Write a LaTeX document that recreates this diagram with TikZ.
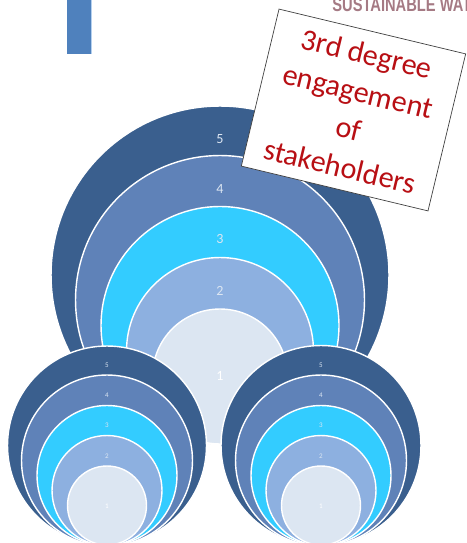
\documentclass[tikz,border=0pt]{standalone}
\usepackage{xcolor}
\usepackage{fontspec}
\setmainfont{Carlito}
\newfontfamily\headfont[FakeStretch=.76]{Liberation Sans}
\usetikzlibrary{positioning}
\definecolor{ringfive}{HTML}{3A5F8E}
\definecolor{ringfour}{HTML}{5F82B8}
\definecolor{ringthree}{HTML}{33CCFF}
\definecolor{ringtwo}{HTML}{8DB0E0}
\definecolor{ringone}{HTML}{DCE6F2}
\definecolor{notered}{HTML}{B80F14}
\definecolor{headred}{HTML}{A57A84}
\definecolor{barblue}{HTML}{4F81BD}
\definecolor{baredge}{HTML}{B5D0EE}
\tikzset{ring/.style = {circle, draw=white, line width=.8pt, inner sep=0pt}}
\tikzset{biglabel/.style = {text=ringone, font=\fontsize{8}{10}\selectfont, inner sep=0pt}}
\tikzset{smalllabel/.style = {text=ringone, font=\fontsize{4}{5}\selectfont, inner sep=0pt}}

\begin{document}
\begin{tikzpicture}[x=.02cm, y=-.02cm]
\clip (0, 0) rectangle (466, 543);
% header leftovers
\node [rectangle, fill=barblue, minimum width=.48cm, minimum height=1.08cm, inner sep=0pt] (bar) at (79, 27) {};
\draw [draw=baredge, line width=.5pt] (bar.north east) to (bar.south east);
\node [anchor=base west, inner sep=0pt, text=headred, font=\headfont\bfseries\fontsize{11}{12}\selectfont] (head) at (332, 12) {SUSTAINABLE WATER};
% large circles
\node [ring, fill=ringfive, minimum size=6.76cm] (Bfive) at (220, 275) {};
\node [ring, fill=ringfour, minimum size=5.78cm] (Bfour) at (220, 300) {};
\node [ring, fill=ringthree, minimum size=4.76cm] (Bthree) at (220, 325.5) {};
\node [ring, fill=ringtwo, minimum size=3.74cm] (Btwo) at (220, 351) {};
\node [ring, fill=ringone, minimum size=2.70cm] (Bone) at (220, 376.5) {};
\node [biglabel] (Blfive) at (220, 139) {5};
\node [biglabel] (Blfour) at (220, 189) {4};
\node [biglabel] (Blthree) at (220, 239) {3};
\node [biglabel] (Bltwo) at (220, 291) {2};
\node [biglabel, text=white] (Blone) at (220, 376) {1};
% left circles
\node [ring, fill=ringfive, minimum size=3.98cm] (Lfive) at (107, 445.5) {};
\node [ring, fill=ringfour, minimum size=3.42cm] (Lfour) at (107, 460.5) {};
\node [ring, fill=ringthree, minimum size=2.80cm] (Lthree) at (107, 475.5) {};
\node [ring, fill=ringtwo, minimum size=2.20cm] (Ltwo) at (107, 490.5) {};
\node [ring, fill=ringone, minimum size=1.58cm] (Lone) at (107, 505.5) {};
\node [smalllabel] (Llfive) at (107, 365) {5};
\node [smalllabel] (Llfour) at (107, 395) {4};
\node [smalllabel] (Llthree) at (107, 425) {3};
\node [smalllabel] (Lltwo) at (107, 456) {2};
\node [smalllabel, text=white] (Llone) at (107, 506) {1};
% right circles
\node [ring, fill=ringfive, minimum size=4.00cm] (Rfive) at (321, 445.5) {};
\node [ring, fill=ringfour, minimum size=3.42cm] (Rfour) at (321, 460.5) {};
\node [ring, fill=ringthree, minimum size=2.80cm] (Rthree) at (321, 475.5) {};
\node [ring, fill=ringtwo, minimum size=2.20cm] (Rtwo) at (321, 490.5) {};
\node [ring, fill=ringone, minimum size=1.58cm] (Rone) at (321, 505.5) {};
\node [smalllabel] (Rlfive) at (321, 365) {5};
\node [smalllabel] (Rlfour) at (321, 395) {4};
\node [smalllabel] (Rlthree) at (321, 425) {3};
\node [smalllabel] (Rltwo) at (321, 456) {2};
\node [smalllabel, text=white] (Rlone) at (321, 506) {1};
% rotated note
\node [rectangle, rotate=-13.5, draw=black!75, line width=.4pt, fill=white, text=notered, minimum width=3.84cm, minimum height=3.23cm, inner sep=0pt, align=center, font=\fontsize{17.2}{22}\selectfont] (note) at (353.5, 110) {3rd degree\\engagement\\of\\stakeholders};
\end{tikzpicture}
\end{document}
